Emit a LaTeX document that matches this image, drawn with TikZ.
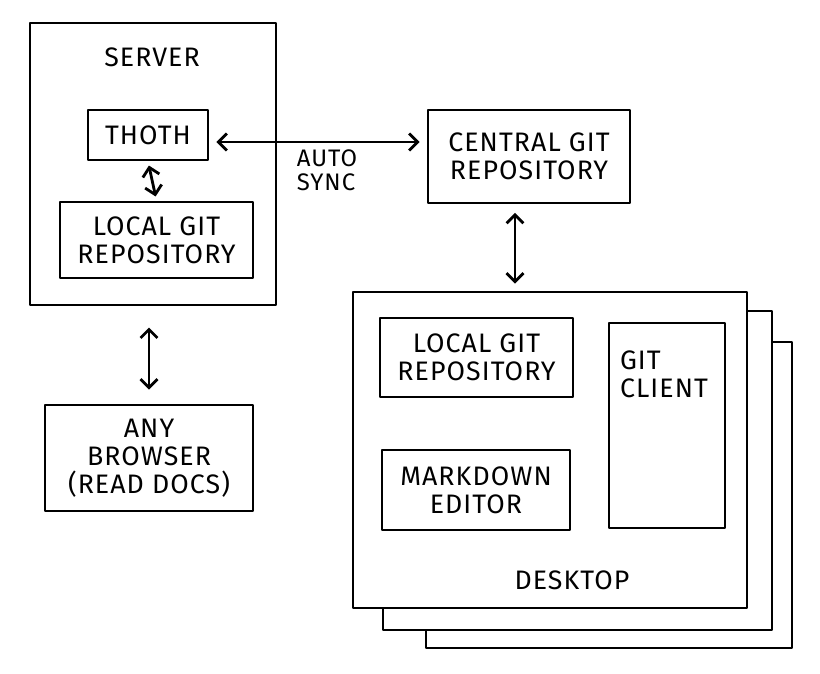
\documentclass[tikz,border=0pt]{standalone}
\usepackage{fontspec}
\setmainfont{Fira Sans}[LetterSpace=4]
\usetikzlibrary{arrows.meta}
\begin{document}
\begin{tikzpicture}[x=0.025cm, y=-0.025cm, line width=2pt, line join=round]
\tikzstyle{box}=[draw, rectangle, fill=white, inner sep=0pt, align=center,
  font=\fontsize{19}{20}\selectfont]
\tikzstyle{annot}=[font=\fontsize{19}{20}\selectfont, align=left, inner sep=0pt]
\tikzstyle{sync}=[{Straight Barb[length=6pt,width=12pt]}-{Straight Barb[length=6pt,width=12pt]}]

% Pixel unit for box sizes
\def\px{0.025cm}

\useasboundingbox (0,0) rectangle (820,673);

% Server side
\node[box, minimum width=246*\px, minimum height=282*\px] (server) at (153,164) {};
\node[annot] (server-label) at (152,57) {SERVER};
\node[box, minimum width=120*\px, minimum height=50*\px] (thoth) at (148,135) {THOTH};
\node[box, minimum width=193*\px, minimum height=76*\px] (srv-repo) at (156.5,240) {LOCAL GIT\\REPOSITORY};

% Browser
\node[box, minimum width=208*\px, minimum height=106*\px] (browser) at (149,458) {ANY\\BROWSER\\(READ DOCS)};

% Central repository
\node[box, minimum width=202*\px, minimum height=93*\px] (central) at (529,156.5) {CENTRAL GIT\\REPOSITORY};

% Desktop stack, back to front
\node[box, minimum width=366*\px, minimum height=306*\px] (desk-3) at (609,495) {};
\node[box, minimum width=389*\px, minimum height=319*\px] (desk-2) at (577.5,470.5) {};
\node[box, minimum width=394*\px, minimum height=316*\px] (desk) at (550,450) {};
\node[annot] (desk-label) at (572,580) {DESKTOP};

% Desktop contents
\node[box, minimum width=193*\px, minimum height=79*\px] (desk-repo) at (476.5,357.5) {LOCAL GIT\\REPOSITORY};
\node[box, minimum width=188*\px, minimum height=80*\px] (editor) at (476,490) {MARKDOWN\\EDITOR};
\node[box, minimum width=116*\px, minimum height=205*\px] (client) at (667,425.5) {};
\node[annot] (client-label) at (664,374) {GIT\\CLIENT};

% Connections
\draw[sync, shorten <=5pt, shorten >=5pt] ([yshift=-7*\px]thoth.east) -- ([yshift=-7*\px]thoth.east -| central.west);
\node[annot, font=\fontsize{17}{17}\selectfont] (sync-label) at (327,170) {AUTO\\SYNC};
\draw[sync, shorten <=3pt, shorten >=3pt] (thoth.south) -- (srv-repo.north);
\draw[sync, shorten <=6pt, shorten >=5pt] ([xshift=-14*\px]central.south) -- ([xshift=-14*\px]central.south |- desk.north);
\draw[sync, shorten <=15pt, shorten >=10pt] (server.south -| browser) -- (browser.north);

\end{tikzpicture}
\end{document}
